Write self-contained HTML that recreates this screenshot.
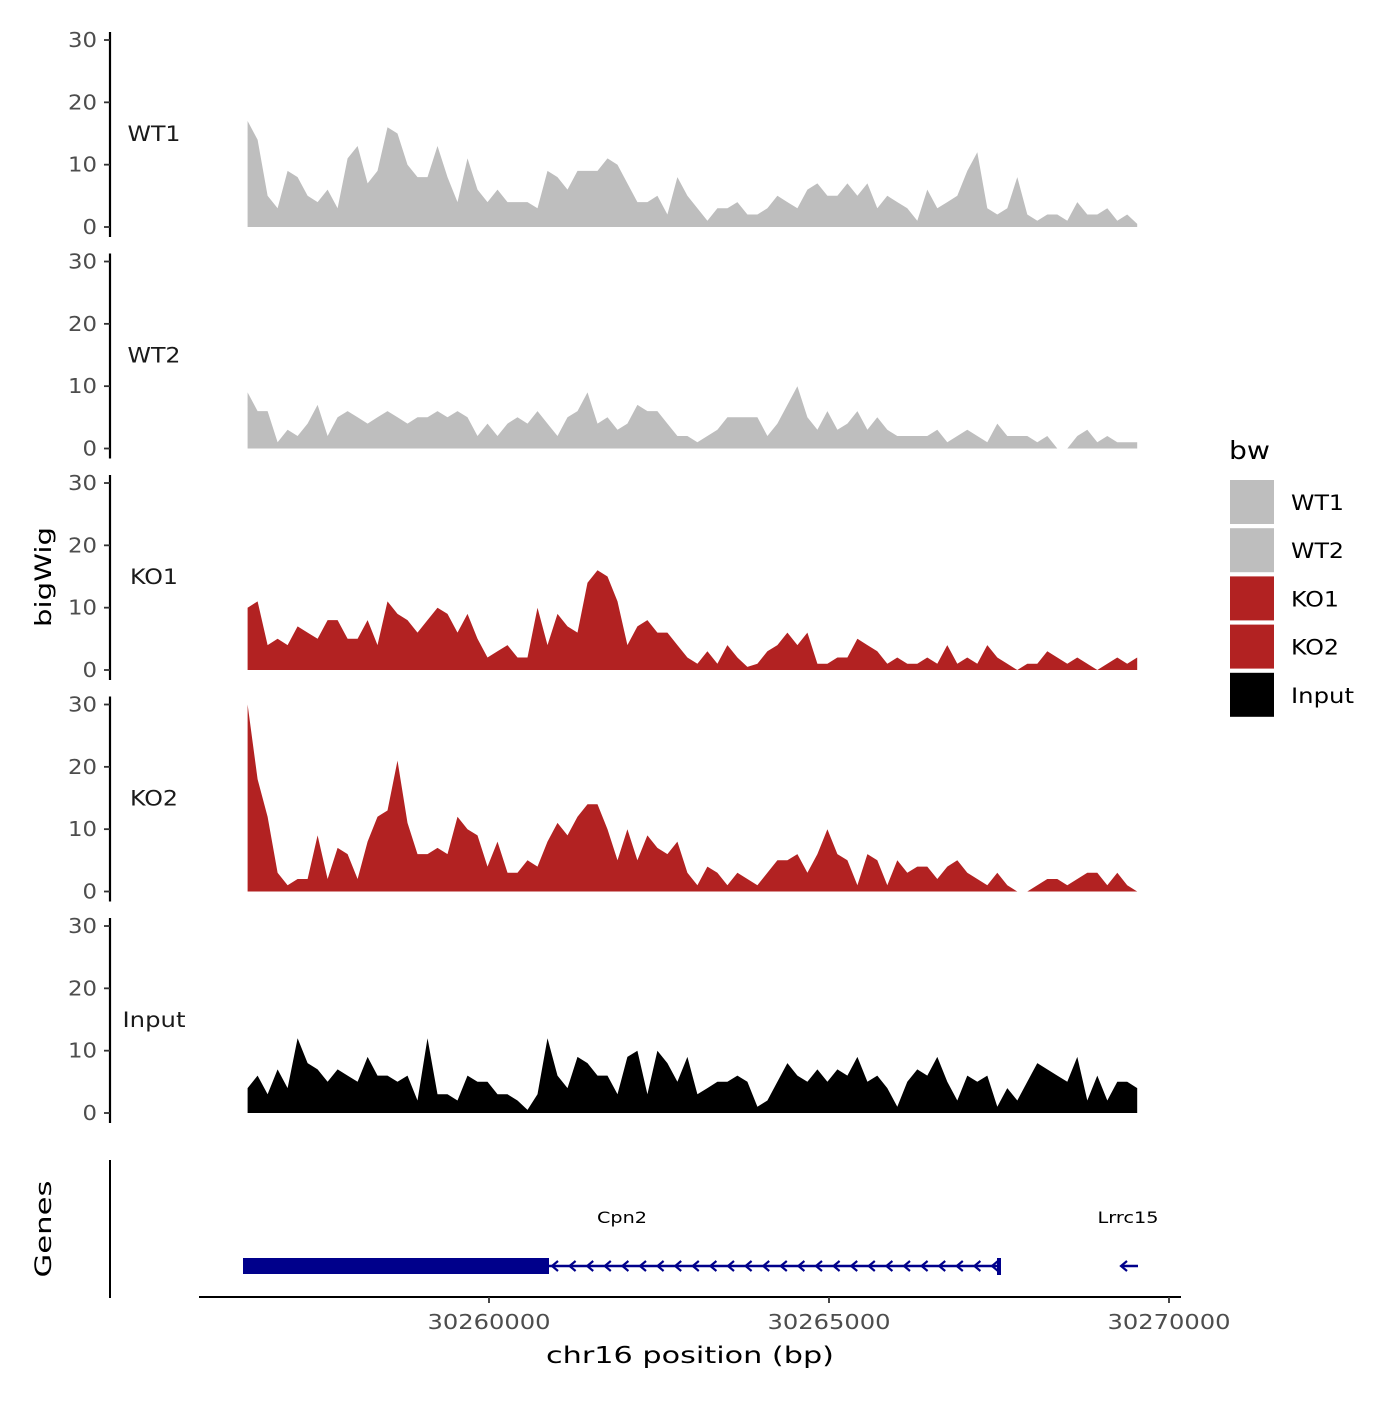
<!DOCTYPE html>
<html><head><meta charset="utf-8">
<style>
html,body{margin:0;padding:0;background:#fff;}
svg text{font-family:"DejaVu Sans","Liberation Sans",sans-serif;}
</style></head>
<body>
<svg id="chart" width="1400" height="1400" viewBox="0 0 1400 1400" xmlns="http://www.w3.org/2000/svg">
<rect width="1400" height="1400" fill="#fff"/>
<text transform="translate(51,577) rotate(-90)" text-anchor="middle" font-size="22" textLength="100" lengthAdjust="spacingAndGlyphs" fill="#000">bigWig</text>
<text transform="translate(51,1229) rotate(-90)" text-anchor="middle" font-size="22" textLength="97" lengthAdjust="spacingAndGlyphs" fill="#000">Genes</text>
<line x1="110" y1="1160" x2="110" y2="1298" stroke="#000" stroke-width="2"/>
<g id="tracks"></g>
<g id="genes"></g>
<line x1="199" y1="1297" x2="1181" y2="1297" stroke="#000" stroke-width="2"/>
<g id="xaxis"></g>
<text x="690" y="1363" text-anchor="middle" font-size="23" textLength="288" lengthAdjust="spacingAndGlyphs" fill="#000">chr16 position (bp)</text>
<g id="legend"></g>
</svg>
<script>
const trackNames = ["WT1","WT2","KO1","KO2","Input"];
const trackColors = ["#bebebe","#bebebe","#b22222","#b22222","#000000"];
const startBp = 30256450;
const stepBp = 147;
const wt1 = [17,14,5,3,9,8,5,4,6,3,11,13,7,9,16,15,10,8,8,13,8,4,11,6,4,6,4,4,4,3,9,8,6,9,9,9,11,10,7,4,4,5,2,8,5,3,1,3,3,4,2,2,3,5,4,3,6,7,5,5,7,5,7,3,5,4,3,1,6,3,4,5,9,12,3,2,3,8,2,1,2,2,1,4,2,2,3,1,2,0.5];
const wt2 = [9,6,6,1,3,2,4,7,2,5,6,5,4,5,6,5,4,5,5,6,5,6,5,2,4,2,4,5,4,6,4,2,5,6,9,4,5,3,4,7,6,6,4,2,2,1,2,3,5,5,5,5,2,4,7,10,5,3,6,3,4,6,3,5,3,2,2,2,2,3,1,2,3,2,1,4,2,2,2,1,2,0,0,2,3,1,2,1,1,1];
const ko1 = [10,11,4,5,4,7,6,5,8,8,5,5,8,4,11,9,8,6,8,10,9,6,9,5,2,3,4,2,2,10,4,9,7,6,14,16,15,11,4,7,8,6,6,4,2,1,3,1,4,2,0.5,1,3,4,6,4,6,1,1,2,2,5,4,3,1,2,1,1,2,1,4,1,2,1,4,2,1,0,1,1,3,2,1,2,1,0,1,2,1,2];
const ko2 = [30,18,12,3,1,2,2,9,2,7,6,2,8,12,13,21,11,6,6,7,6,12,10,9,4,8,3,3,5,4,8,11,9,12,14,14,10,5,10,5,9,7,6,8,3,1,4,3,1,3,2,1,3,5,5,6,3,6,10,6,5,1,6,5,1,5,3,4,4,2,4,5,3,2,1,3,1,0,0,1,2,2,1,2,3,3,1,3,1,0];
const inputVals = [4,6,3,7,4,12,8,7,5,7,6,5,9,6,6,5,6,2,12,3,3,2,6,5,5,3,3,2,0.5,3,12,6,4,9,8,6,6,3,9,10,3,10,8,5,9,3,4,5,5,6,5,1,2,5,8,6,5,7,5,7,6,9,5,6,4,1,5,7,6,9,5,2,6,5,6,1,4,2,5,8,7,6,5,9,2,6,2,5,5,4];
const series = [wt1,wt2,ko1,ko2,inputVals];
const yTicks = [0,10,20,30];
const xTicks = [30260000,30265000,30270000];
const legendLabels = ["WT1","WT2","KO1","KO2","Input"];

const NS="http://www.w3.org/2000/svg";
function mk(tag,attrs,parent){const e=document.createElementNS(NS,tag);for(const k in attrs)e.setAttribute(k,attrs[k]);parent.appendChild(e);return e;}
function xScale(bp){return 489+(bp-30260000)*0.068;}
function yScale(panel,v){const zero=227+panel*221.5;return zero-v*6.233;}
const labelW={"WT1":53,"WT2":53,"KO1":48,"KO2":48,"Input":63};

const tracks=document.getElementById('tracks');
series.forEach((vals,p)=>{
  const g=mk('g',{},tracks);
  
  
  const top=yScale(p,30), zero=yScale(p,0);
  const ax=mk('line',{x1:110,y1:top-8,x2:110,y2:zero+10,stroke:'#000','stroke-width':2.2},g);
  
  
  yTicks.forEach(t=>{
    const y=yScale(p,t);
    const tk=mk('line',{x1:104,y1:y,x2:110,y2:y,stroke:'#333','stroke-width':1.8},g);
    
    
    const s=String(t);
    const tl=mk('text',{x:97,y:y+7,'text-anchor':'end','font-size':20,fill:'#4d4d4d',textLength:s.length*14.5,lengthAdjust:'spacingAndGlyphs'},g);
    tl.textContent=s;
    
    
  });
  const lab=mk('text',{x:154,y:zero-86,'text-anchor':'middle','font-size':21,fill:'#1a1a1a',textLength:labelW[trackNames[p]],lengthAdjust:'spacingAndGlyphs'},g);
  lab.textContent=trackNames[p];
  
  
  let d='M'+xScale(startBp).toFixed(1)+','+zero;
  vals.forEach((v,i)=>{d+=' L'+xScale(startBp+i*stepBp).toFixed(1)+','+yScale(p,v).toFixed(1);});
  d+=' L'+xScale(startBp+(vals.length-1)*stepBp).toFixed(1)+','+zero+' Z';
  const area=mk('path',{d:d,fill:trackColors[p]},g);
  
  
});

const xa=document.getElementById('xaxis');
xTicks.forEach(t=>{
  const x=xScale(t);
  const tk=mk('line',{x1:x,y1:1297,x2:x,y2:1303,stroke:'#333','stroke-width':1.8},xa);
  
  
  const tl=mk('text',{x:x,y:1329,'text-anchor':'middle','font-size':20,fill:'#4d4d4d',textLength:123,lengthAdjust:'spacingAndGlyphs'},xa);
  tl.textContent=t;
  
  
});

const gg=document.getElementById('genes');
const c='#00008b';
const exon=mk('rect',{x:243,y:1258,width:306,height:16,fill:c},gg);


const intr=mk('line',{x1:549,y1:1266,x2:1000,y2:1266,stroke:c,'stroke-width':2.5},gg);


mk('line',{x1:999,y1:1258,x2:999,y2:1275,stroke:c,'stroke-width':4},gg);
for(let x=552;x<995;x+=17.6){mk('path',{d:`M${x+6},1261 L${x},1266 L${x+6},1271`,fill:'none',stroke:c,'stroke-width':2.2},gg);}
mk('line',{x1:1121,y1:1266,x2:1138,y2:1266,stroke:c,'stroke-width':2.5},gg);
mk('path',{d:'M1127,1261 L1121,1266 L1127,1271',fill:'none',stroke:c,'stroke-width':2.2},gg);
const g1=mk('text',{x:622,y:1223,'text-anchor':'middle','font-size':16,fill:'#000',textLength:50,lengthAdjust:'spacingAndGlyphs'},gg);g1.textContent='Cpn2';


const g2=mk('text',{x:1128,y:1223,'text-anchor':'middle','font-size':16,fill:'#000',textLength:61,lengthAdjust:'spacingAndGlyphs'},gg);g2.textContent='Lrrc15';



const lg=document.getElementById('legend');
const lt=mk('text',{x:1229,y:459,'font-size':25,fill:'#000',textLength:41,lengthAdjust:'spacingAndGlyphs'},lg);lt.textContent='bw';


const legW={"WT1":53,"WT2":53,"KO1":48,"KO2":48,"Input":63};
legendLabels.forEach((l,i)=>{
  const y=480+i*48.2;
  const r=mk('rect',{x:1230,y:y,width:44,height:44,fill:trackColors[i]},lg);
  
  
  const t=mk('text',{x:1291,y:y+30,'font-size':21,fill:'#000',textLength:legW[l],lengthAdjust:'spacingAndGlyphs'},lg);t.textContent=l;
  
  
});
</script>
</body></html>
